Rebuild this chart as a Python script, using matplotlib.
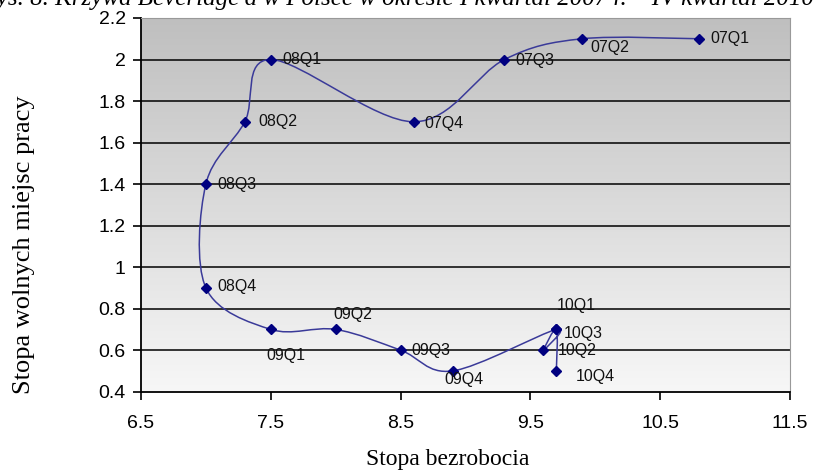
import numpy as np
import matplotlib
matplotlib.use("Agg")
import matplotlib.pyplot as plt
from matplotlib.path import Path
from matplotlib.patches import PathPatch

# quarters, unemployment rate (x) and job vacancy rate (y)
quarters = ["07Q1", "07Q2", "07Q3", "07Q4", "08Q1", "08Q2", "08Q3", "08Q4",
            "09Q1", "09Q2", "09Q3", "09Q4", "10Q1", "10Q2", "10Q3", "10Q4"]
unemployment = [10.8, 9.9, 9.3, 8.6, 7.5, 7.3, 7.0, 7.0,
                7.5, 8.0, 8.5, 8.9, 9.7, 9.6, 9.7, 9.7]
vacancies = [2.1, 2.1, 2.0, 1.7, 2.0, 1.7, 1.4, 0.9,
             0.7, 0.7, 0.6, 0.5, 0.7, 0.6, 0.7, 0.5]

x_ticks = [6.5, 7.5, 8.5, 9.5, 10.5, 11.5]
y_ticks = [0.4, 0.6, 0.8, 1.0, 1.2, 1.4, 1.6, 1.8, 2.0, 2.2]

# label offsets in points (dx, dy)
label_pos = {
    "07Q1": (8, 0), "07Q2": (6, -6), "07Q3": (8, -1), "07Q4": (8, -1),
    "08Q1": (8, 0), "08Q2": (10, 0), "08Q3": (8, 0), "08Q4": (8, 1),
    "09Q1": (-3, -19), "09Q2": (-2, 11), "09Q3": (8, 0), "09Q4": (-6, -6),
    "10Q1": (0, 17), "10Q2": (10, 0), "10Q3": (5, -3), "10Q4": (14, -4),
}

fig = plt.figure(figsize=(8.14, 4.76), dpi=100)
ax = fig.add_axes([0.1732, 0.1771, 0.7973, 0.7851])
ax.set_xlim(6.5, 11.5)
ax.set_ylim(0.4, 2.2)

# grey-to-white gradient background
grad = np.linspace(0, 1, 256).reshape(-1, 1)
cmap = matplotlib.colors.LinearSegmentedColormap.from_list("bg", ["#f7f7f7", "#bfbfbf"])
ax.imshow(grad, extent=[6.5, 11.5, 0.4, 2.2], origin="lower", aspect="auto",
          cmap=cmap, zorder=0)

for y in y_ticks[1:-1]:
    ax.axhline(y, color="black", lw=1.1, zorder=1)

# Excel-like smoothed line: bezier control points computed in pixel-like space
sx, sy = 649 / 5.0, 373.7 / 1.8
px = np.array(unemployment) * sx
py = np.array(vacancies) * sy
n = len(px)
verts = [(px[0], py[0])]
codes = [Path.MOVETO]
for i in range(n - 1):
    p0 = i - 1 if i > 0 else i
    p3 = i + 2 if i + 2 < n else i + 1
    c1 = (px[i] + (px[i + 1] - px[p0]) / 6, py[i] + (py[i + 1] - py[p0]) / 6)
    c2 = (px[i + 1] - (px[p3] - px[i]) / 6, py[i + 1] - (py[p3] - py[i]) / 6)
    verts += [c1, c2, (px[i + 1], py[i + 1])]
    codes += [Path.CURVE4] * 3
verts = [(vx / sx, vy / sy) for vx, vy in verts]
ax.add_patch(PathPatch(Path(verts, codes), fill=False, edgecolor="#3a3a99",
                       lw=1.1, zorder=3))

ax.plot(unemployment, vacancies, ls="none", marker="D", ms=5,
        color="#000080", zorder=4)

for q, xv, yv in zip(quarters, unemployment, vacancies):
    dx, dy = label_pos[q]
    ax.annotate(q, (xv, yv), xytext=(dx, dy), textcoords="offset points",
                ha="left", va="center", fontsize=11.5, family="Liberation Sans",
                color="#111111", zorder=5)

ax.set_xticks(x_ticks)
ax.set_yticks(y_ticks)
ax.set_xticklabels(["%g" % v for v in x_ticks])
ax.set_yticklabels(["%g" % v for v in y_ticks])
ax.tick_params(direction="out", length=6, width=1.2, labelsize=14, pad=5)
for lab in ax.get_xticklabels() + ax.get_yticklabels():
    lab.set_family("Liberation Sans")
ax.tick_params(axis="x", pad=11)

ax.spines["left"].set_linewidth(1.3)
ax.spines["bottom"].set_linewidth(1.3)
ax.spines["top"].set_color("#999999")
ax.spines["right"].set_color("#999999")

fig.text(0.03, 0.487, "Stopa wolnych miejsc pracy", rotation=90, ha="center",
         va="center", fontsize=19, family="Liberation Serif")
fig.text(0.55, 0.035, "Stopa bezrobocia", ha="center", va="center",
         fontsize=17, family="Liberation Serif")
# title is cut off at the top edge, as in the source scan
fig.text(-0.022, 0.99, "Rys. 8. Krzywa Beveridge'a w Polsce w okresie I kwartał 2007 r. – IV kwartał 2010 r.",
         ha="left", va="baseline", fontsize=18, style="italic",
         family="Liberation Serif")

fig.savefig("out.png", dpi=100)
